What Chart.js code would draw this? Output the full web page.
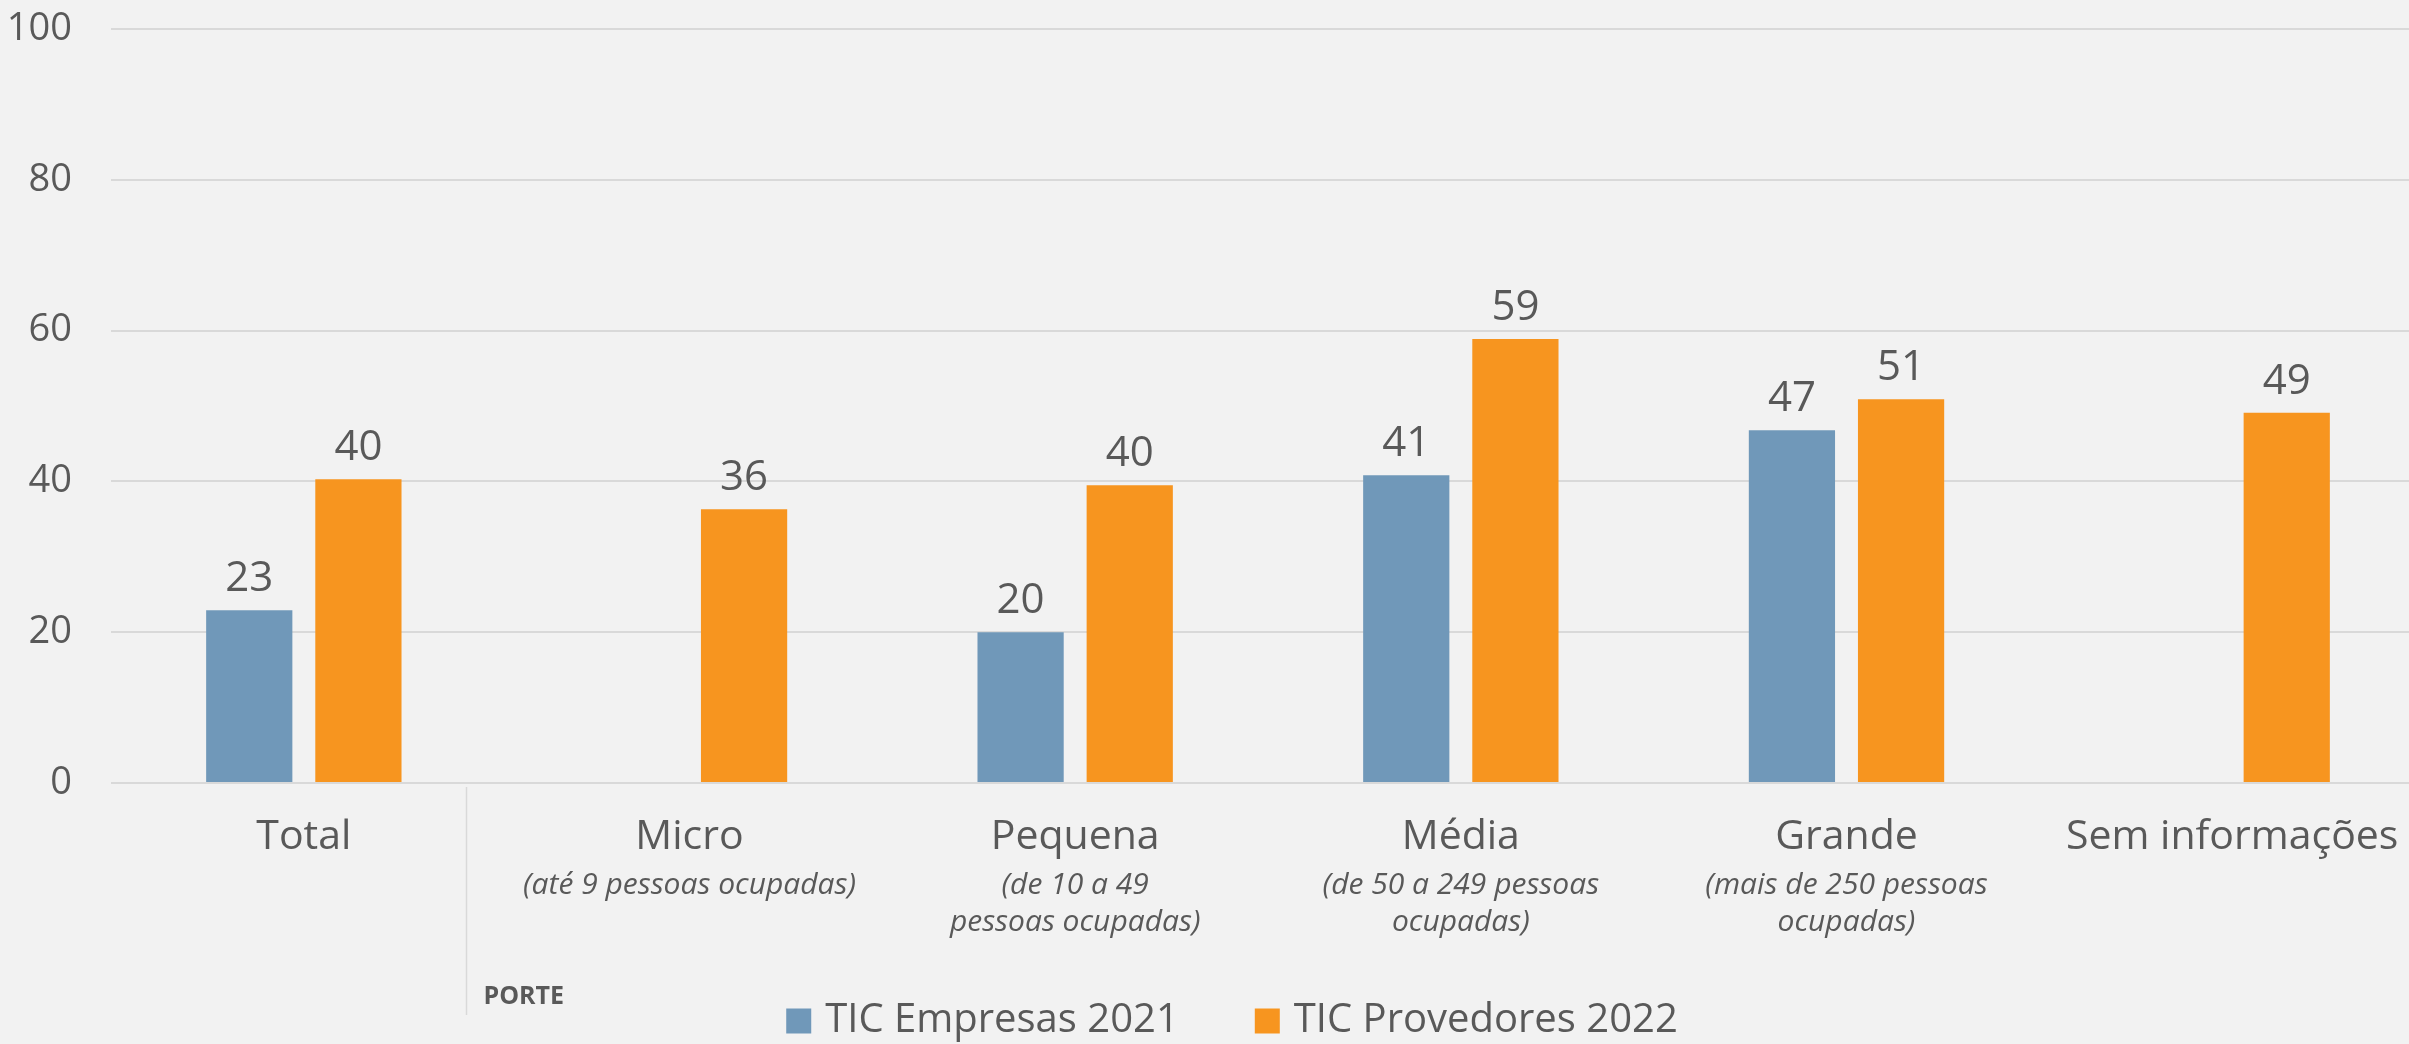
<!DOCTYPE html>
<html>
<head>
<meta charset="utf-8">
<script src="https://cdn.jsdelivr.net/npm/chart.js@4.4.1/dist/chart.umd.min.js"></script>
<style>
	html, body { margin: 0; padding: 0; background: #f2f2f2; overflow: hidden; }
	#wrap { width: 2425px; height: 1044px; position: relative; }
</style>
</head>
<body>
<div id="wrap"><canvas id="chart"></canvas></div>
<script>
const categories = ['Total', 'Micro', 'Pequena', 'Média', 'Grande', 'Sem informações'];
const subLabels = [
	[],
	['(até 9 pessoas ocupadas)'],
	['(de 10 a 49', 'pessoas ocupadas)'],
	['(de 50 a 249 pessoas', 'ocupadas)'],
	['(mais de 250 pessoas', 'ocupadas)'],
	[]
];
const seriesNames = ['TIC Empresas 2021', 'TIC Provedores 2022'];
const empresas2021 = [22.9, null, 20.0, 40.8, 46.8, null];
const provedores2022 = [40.3, 36.3, 39.5, 58.9, 50.9, 49.1];
const yTicks = [0, 20, 40, 60, 80, 100];
const groupLabel = 'PORTE';

const FONT = "'Open Sans', 'Noto Sans', sans-serif";
const TEXT = '#595959';
const colors = ['#7098b9', '#f7951f'];

// value labels, category labels, divider and legend drawn by hand
const decor = {
	id: 'decor',
	afterDatasetsDraw(chart) {
		const ctx = chart.ctx;
		const x = chart.scales.x;
		const bottom = chart.chartArea.bottom;
		ctx.save();
		ctx.fillStyle = TEXT;

		// values above bars
		ctx.font = `42px ${FONT}`;
		ctx.textAlign = 'center';
		ctx.textBaseline = 'bottom';
		chart.data.datasets.forEach((ds, di) => {
			chart.getDatasetMeta(di).data.forEach((bar, i) => {
				if (ds.data[i] == null) return;
				ctx.fillText(String(Math.round(ds.data[i])), bar.x, bar.y - 10);
			});
		});

		// category labels
		ctx.textBaseline = 'middle';
		categories.forEach((c, i) => {
			const cx = x.getPixelForValue(i);
			ctx.font = `41px ${FONT}`;
			ctx.fillText(c, cx, bottom + 54);
			ctx.font = `italic 30px ${FONT}`;
			subLabels[i].forEach((line, k) => ctx.fillText(line, cx, bottom + 102 + k * 37));
		});

		// divider between Total and the size group
		const p0 = x.getPixelForValue(0), p1 = x.getPixelForValue(1);
		const dx = Math.round((p0 + p1) / 2 - 0.08 * (p1 - p0)) + 0.5;
		ctx.strokeStyle = '#d9d9d9';
		ctx.lineWidth = 1.5;
		ctx.beginPath();
		ctx.moveTo(dx, bottom + 4);
		ctx.lineTo(dx, bottom + 232);
		ctx.stroke();

		ctx.font = `bold 25px ${FONT}`;
		ctx.textAlign = 'left';
		ctx.fillText(groupLabel, dx + 17, bottom + 214);

		// legend
		ctx.font = `40px ${FONT}`;
		const box = 25, gapText = 14, gapItem = 76;
		const widths = seriesNames.map(n => box + gapText + ctx.measureText(n).width);
		const total = widths.reduce((a, b) => a + b, 0) + gapItem;
		let lx = 1232 - total / 2;
		const ly = 1021;
		seriesNames.forEach((n, i) => {
			ctx.fillStyle = colors[i];
			ctx.fillRect(lx, ly - box / 2, box, box);
			ctx.fillStyle = TEXT;
			ctx.fillText(n, lx + box + gapText, ly);
			lx += widths[i] + gapItem;
		});
		ctx.restore();
	}
};

new Chart(document.getElementById('chart'), {
	type: 'bar',
	data: {
		labels: categories,
		datasets: [
			{ label: seriesNames[0], data: empresas2021, backgroundColor: colors[0] },
			{ label: seriesNames[1], data: provedores2022, backgroundColor: colors[1] }
		]
	},
	options: {
		responsive: true,
		maintainAspectRatio: false,
		animation: false,
		categoryPercentage: 0.566,
		barPercentage: 0.79,
		layout: { padding: { top: 29, right: 0, bottom: 0, left: 0 } },
		plugins: { legend: { display: false }, tooltip: { enabled: false } },
		scales: {
			x: {
				grid: { display: false },
				border: { display: false },
				ticks: { display: false },
				afterFit: s => { s.height = 261; }
			},
			y: {
				min: 0,
				max: 100,
				afterBuildTicks: s => { s.ticks = yTicks.map(v => ({ value: v })); },
				grid: { color: '#d9d9d9', lineWidth: 2, drawTicks: false },
				border: { display: false },
				ticks: { color: TEXT, font: { family: FONT, size: 38 }, padding: 39 },
				afterFit: s => { s.width = 111; s.paddingTop = 0; s.paddingBottom = 0; }
			}
		}
	},
	plugins: [decor]
});
</script>
</body>
</html>
